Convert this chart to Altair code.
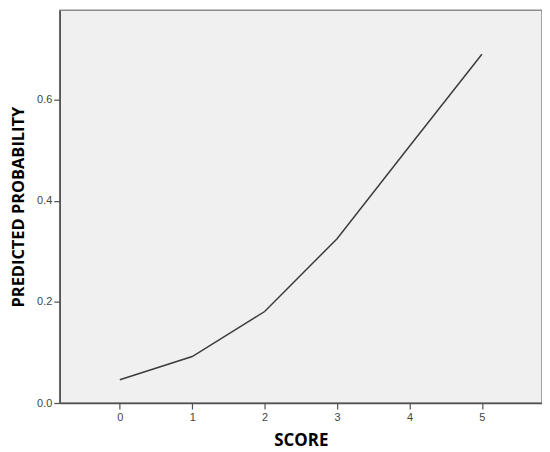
import altair as alt
import pandas as pd

score = [0, 1, 2, 3, 4, 5]
prob = [0.046, 0.092, 0.181, 0.325, 0.508, 0.690]
x_ticks = [0, 1, 2, 3, 4, 5]
y_ticks = [0.0, 0.2, 0.4, 0.6]

df = pd.DataFrame({"SCORE": score, "PROB": prob})

chart = alt.Chart(df).mark_line(color="#3c3c3c", strokeWidth=1.5).encode(
    x=alt.X("SCORE:Q",
            scale=alt.Scale(domain=[-0.83, 5.83], nice=False, zero=False),
            axis=alt.Axis(values=x_ticks, format="d", title="SCORE",
                          grid=False, tickSize=6, labelPadding=3,
                          titleY=43, titleBaseline="alphabetic",
                          titleFontSize=17)),
    y=alt.Y("PROB:Q",
            scale=alt.Scale(domain=[0, 0.777], nice=False),
            axis=alt.Axis(values=y_ticks, format=".1f",
                          title="PREDICTED PROBABILITY",
                          grid=False, tickSize=6, labelPadding=2,
                          titlePadding=10, titleFontSize=16.5)),
).properties(
    width=485, height=395,
    autosize=alt.AutoSizeParams(type="none"),
    padding={"left": 52, "top": 1, "right": 0, "bottom": 47},
    background="white",
).configure_view(
    fill="#f0f0f0", stroke="#8c8c8c", strokeWidth=1.5
).configure_axis(
    domainColor="#505050", domainWidth=1.5,
    tickColor="#505050", tickWidth=1.2,
    labelFont="Liberation Sans", labelFontSize=11, labelColor="#444444",
    titleFont="Open Sans", titleFontWeight="bold",
    titleColor="#000000",
)

chart.save("out.html", embed_options={"renderer": "svg", "actions": False})
